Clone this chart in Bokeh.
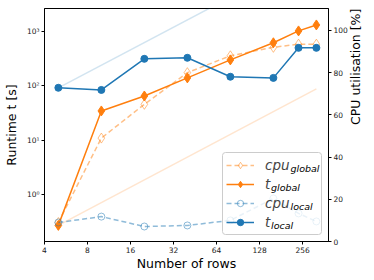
import math
from bokeh.plotting import figure
from bokeh.models import (Range1d, LinearAxis, LinearScale, FixedTicker, CustomJSTickFormatter,
                          Legend, LegendItem, Label, BoxAnnotation)
from bokeh.embed import file_html
from bokeh.resources import INLINE

# ---------------- data ----------------
rows = [5, 10, 20, 40, 80, 160, 240, 320]
t_local = [92, 84, 314, 328, 147, 140, 500, 500]
t_global = [0.27, 34.5, 65, 140, 300, 620, 1025, 1320]
cpu_global = [9.0, 49.0, 65.0, 80.0, 88.0, 92.0, 93.5, 93.5]
cpu_local = [9.0, 11.8, 7.1, 7.6, 10.0, 20.4, 13.3, 9.5]
ref_rows = [5, 320]
ref_local = [92, 29000]
ref_global = [0.27, 88]
x_ticks = [4, 8, 16, 32, 64, 128, 256]
y_ticks = [1, 10, 100, 1000]
cpu_ticks = [0, 20, 40, 60, 80, 100]

BLUE = "#1f77b4"
ORANGE = "#ff7f0e"
FONT = "DejaVu Sans"

p = figure(width=374, height=280, x_axis_type="log", y_axis_type="log",
           x_range=Range1d(4, 389), y_range=Range1d(0.1364, 2650),
           output_backend="svg", toolbar_location=None,
           min_border_left=44, min_border_right=46, min_border_top=8,
           min_border_bottom=39)
p.extra_y_ranges = {"cpu": Range1d(0, 110.4)}
p.extra_y_scales = {"cpu": LinearScale()}
p.xgrid.visible = False
p.ygrid.visible = False
p.outline_line_color = "black"
p.outline_line_alpha = 1.0

ax_r = LinearAxis(y_range_name="cpu", ticker=FixedTicker(ticks=cpu_ticks))
p.add_layout(ax_r, "right")

p.xaxis.ticker = FixedTicker(ticks=x_ticks)
p.xaxis.formatter = CustomJSTickFormatter(code="return tick.toFixed(0);")
p.yaxis[0].ticker = FixedTicker(ticks=y_ticks)
p.yaxis[0].formatter = CustomJSTickFormatter(code="""
const sup = {"-1": "\\u207b\\u00b9", "0": "\\u2070", "1": "\\u00b9", "2": "\\u00b2", "3": "\\u00b3"};
const e = Math.round(Math.log10(tick));
return "10" + sup[String(e)];
""")

p.xaxis.axis_label = "Number of rows"
p.yaxis[0].axis_label = "Runtime t [s]"
ax_r.axis_label = "CPU utilisation [%]"

for ax in [p.xaxis[0], p.yaxis[0], ax_r]:
    ax.axis_line_color = "black"
    ax.major_tick_line_color = "black"
    ax.major_tick_out = 3
    ax.major_tick_in = 0
    ax.minor_tick_out = 0
    ax.minor_tick_in = 0
    ax.major_label_text_font = FONT
    ax.major_label_text_font_size = "7.5px"
    ax.major_label_text_color = "#222222"
    ax.major_label_standoff = 2
    ax.axis_label_text_font = FONT
    ax.axis_label_text_font_size = "12.5px"
    ax.axis_label_text_font_style = "normal"
    ax.axis_label_text_color = "black"

p.xaxis[0].axis_label_standoff = 0
p.yaxis[0].axis_label_standoff = 5
ax_r.axis_label_standoff = 5
if "axis_label_orientation" in ax_r.properties():
    ax_r.axis_label_orientation = math.pi / 2

# reference scaling lines
p.line(ref_rows, ref_local, line_color=BLUE, line_alpha=0.2, line_width=1.5)
p.line(ref_rows, ref_global, line_color=ORANGE, line_alpha=0.2, line_width=1.5)

l_cg = p.line(rows, cpu_global, y_range_name="cpu", line_color=ORANGE, line_alpha=0.5,
              line_width=1.5, line_dash="5 3")
s_cg = p.scatter(rows, cpu_global, y_range_name="cpu", marker="diamond",
                 size=10, fill_color=None, line_color=ORANGE, line_alpha=0.5, line_width=1)
l_tg = p.line(rows, t_global, line_color=ORANGE, line_width=1.5)
s_tg = p.scatter(rows, t_global, marker="diamond", size=10,
                 fill_color=ORANGE, line_color=ORANGE)
l_cl = p.line(rows, cpu_local, y_range_name="cpu", line_color=BLUE, line_alpha=0.5,
              line_width=1.5, line_dash="5 3")
s_cl = p.scatter(rows, cpu_local, y_range_name="cpu", marker="circle", size=7,
                 fill_color=None, line_color=BLUE, line_alpha=0.5, line_width=1)
l_tl = p.line(rows, t_local, line_color=BLUE, line_width=1.5)
s_tl = p.scatter(rows, t_local, marker="circle", size=7, fill_color=BLUE,
                 line_color=BLUE)

# legend frame (drawn as a box so that the subscripts can sit above it)
box = BoxAnnotation(left=178, right=277, bottom=7, top=89, left_units="screen",
                    right_units="screen", bottom_units="screen", top_units="screen",
                    fill_color="white", fill_alpha=0.8, line_color="#cccccc",
                    line_alpha=1.0, line_width=1, level="annotation")
if "border_radius" in box.properties():
    box.border_radius = 3
p.add_layout(box)

items = [
    LegendItem(label="cpu", renderers=[l_cg, s_cg]),
    LegendItem(label="t", renderers=[l_tg, s_tg]),
    LegendItem(label="cpu", renderers=[l_cl, s_cl]),
    LegendItem(label="t", renderers=[l_tl, s_tl]),
]
legend = Legend(items=items, location=(178, 7), padding=4, spacing=3, margin=0,
                glyph_width=28, glyph_height=16, label_height=16, label_width=52,
                label_standoff=11, label_text_font=FONT, label_text_font_style="italic",
                label_text_font_size="13.5px", background_fill_alpha=0.0,
                border_line_alpha=0.0)
p.add_layout(legend)

subs = [("global", 246, 73), ("global", 226.5, 54), ("local", 246, 35), ("local", 226.5, 16)]
for txt, sx, sy in subs:
    p.add_layout(Label(x=sx, y=sy, x_units="screen", y_units="screen", text=txt,
                       text_font=FONT, text_font_style="italic", text_font_size="9.5px",
                       text_baseline="alphabetic", text_align="left", text_color="black",
                       level="overlay"))

open("out.html", "w", encoding="utf-8").write(file_html(p, INLINE))
